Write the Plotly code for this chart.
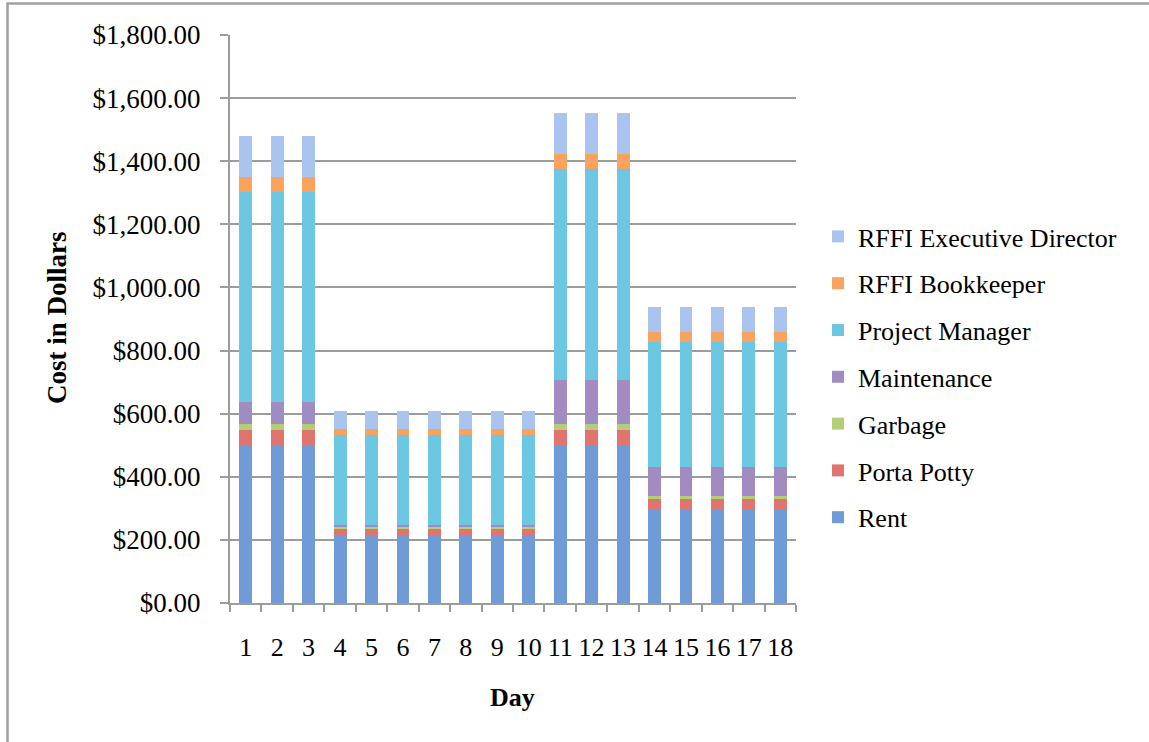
import plotly.graph_objects as go

# Daily cost breakdown by category (dollars)
days = [str(d) for d in range(1, 19)]

rent = [500, 500, 500, 213, 213, 213, 213, 213, 213, 213,
        500, 500, 500, 298, 298, 298, 298, 298]
porta_potty = [48, 48, 48, 23, 23, 23, 23, 23, 23, 23,
               48, 48, 48, 32, 32, 32, 32, 32]
garbage = [18, 18, 18, 6, 6, 6, 6, 6, 6, 6,
           18, 18, 18, 9, 9, 9, 9, 9]
maintenance = [70, 70, 70, 5, 5, 5, 5, 5, 5, 5,
               142, 142, 142, 91, 91, 91, 91, 91]
project_manager = [666, 666, 666, 284, 284, 284, 284, 284, 284, 284,
                   666, 666, 666, 398, 398, 398, 398, 398]
bookkeeper = [48, 48, 48, 22, 22, 22, 22, 22, 22, 22,
              48, 48, 48, 32, 32, 32, 32, 32]
exec_director = [130, 130, 130, 57, 57, 57, 57, 57, 57, 57,
                 130, 130, 130, 79, 79, 79, 79, 79]

series = [
    ("Rent", rent, "#6f9bd6"),
    ("Porta Potty", porta_potty, "#e07570"),
    ("Garbage", garbage, "#b2cf78"),
    ("Maintenance", maintenance, "#a18cc2"),
    ("Project Manager", project_manager, "#6cc8e2"),
    ("RFFI Bookkeeper", bookkeeper, "#f9a35e"),
    ("RFFI Executive Director", exec_director, "#a9c4ee"),
]

fig = go.Figure()
n = len(series)
for i, (name, vals, color) in enumerate(series):
    fig.add_trace(go.Bar(
        x=days, y=vals, name=name, legendgroup=name,
        legendrank=n - i,  # top of the stack listed first
        marker=dict(color=color, line=dict(width=0)),
    ))

SERIF = "Liberation Serif"
GRID = "#9c9c9c"

L, R, T, B = 230, 353, 35, 139
W, H = 1149, 742
pw, ph = W - L - R, H - T - B


def px_x(x):
    return (x - L) / pw


def px_y(y):
    return (H - B - y) / ph


fig.update_layout(
    width=W, height=H,
    margin=dict(l=L, r=R, t=T, b=B),
    paper_bgcolor="white", plot_bgcolor="white",
    barmode="stack", bargap=0.59,
    font=dict(family=SERIF, size=24, color="black"),
    showlegend=True,
    legend=dict(
        x=px_x(818), y=px_y(377), xanchor="left", yanchor="middle",
        traceorder="grouped", tracegroupgap=10,
        font=dict(family=SERIF, size=26, color="black"),
        itemwidth=30,
    ),
    xaxis=dict(
        type="category", showgrid=False,
        showline=True, linecolor=GRID, linewidth=2,
        ticks="outside", tickson="boundaries", ticklen=7,
        tickcolor=GRID, tickwidth=2, tickangle=0,
        ticklabelstandoff=20,
        tickfont=dict(family=SERIF, size=26),
    ),
    yaxis=dict(
        range=[0, 1800], dtick=200, tickformat="$,.2f",
        showgrid=True, gridcolor=GRID, gridwidth=2,
        showline=True, linecolor=GRID, linewidth=2,
        ticks="outside", ticklen=8, tickcolor=GRID, tickwidth=2,
        ticklabelstandoff=14,
        tickfont=dict(family=SERIF, size=27),
        zeroline=False,
    ),
    annotations=[
        dict(text="<b>Cost in Dollars</b>", xref="paper", yref="paper",
             x=px_x(57), y=px_y(318), textangle=-90, showarrow=False,
             xanchor="center", yanchor="middle",
             font=dict(family=SERIF, size=27, color="black")),
        dict(text="<b>Day</b>", xref="paper", yref="paper",
             x=px_x(512), y=px_y(697), showarrow=False,
             xanchor="center", yanchor="middle",
             font=dict(family=SERIF, size=26, color="black")),
    ],
    shapes=[
        dict(type="line", xref="paper", yref="paper",
             x0=px_x(7.5), x1=px_x(7.5), y0=px_y(3.5), y1=px_y(H + 5),
             line=dict(color="#a0a0a0", width=2.5)),
        dict(type="line", xref="paper", yref="paper",
             x0=px_x(6.5), x1=px_x(W + 5), y0=px_y(3.5), y1=px_y(3.5),
             line=dict(color="#a0a0a0", width=2.5)),
    ],
)

fig.write_html("out.html")
